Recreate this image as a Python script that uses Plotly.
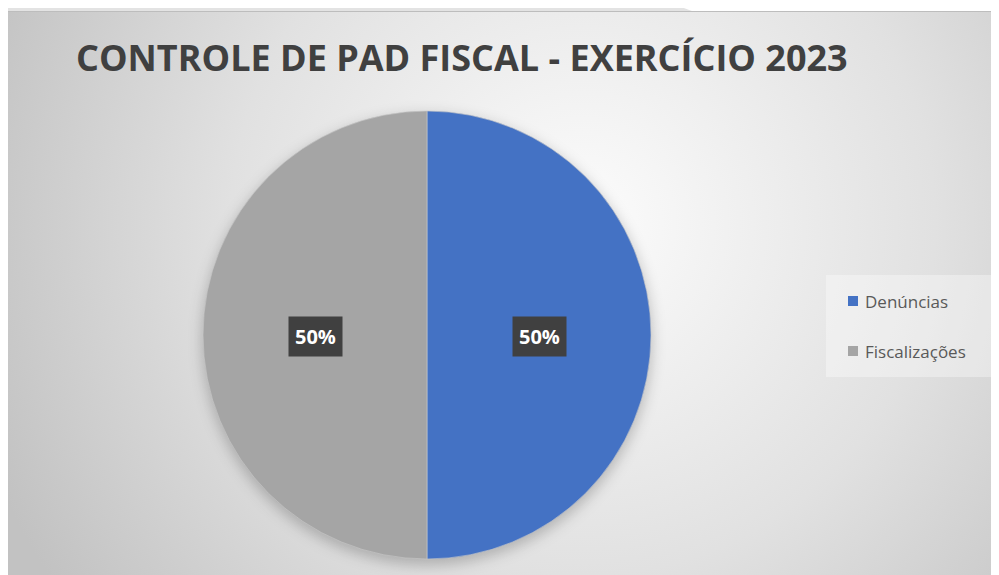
import base64
import math
import plotly.graph_objects as go

# ---- data ----
categories = ["Denúncias", "Fiscalizações"]
values = [1, 1]
colors = ["#4472C4", "#A5A5A5"]
title_text = "CONTROLE DE PAD FISCAL - EXERCÍCIO 2023"

# The page body has an 8px margin, so the figure is drawn 8px in from the top-left.
OFF = 8
W, H = 999 - OFF, 575 - OFF


def px(X):  # reference x pixel -> paper
    return (X - OFF) / W


def py(Y):  # reference y pixel -> paper
    return 1 - (Y - OFF) / H


# pie geometry (reference pixels)
cx, cy, r = 427, 335, 224
fcx, fcy = cx - OFF, cy - OFF

svg = f'''<svg xmlns="http://www.w3.org/2000/svg" width="{W}" height="{H}" viewBox="0 0 {W} {H}">
<defs>
<radialGradient id="g" gradientUnits="userSpaceOnUse" cx="575" cy="215" r="640">
<stop offset="0" stop-color="#fcfcfc"/><stop offset="0.55" stop-color="#e1e1e1"/><stop offset="1" stop-color="#c2c2c2"/></radialGradient>
<filter id="b" x="-20%" y="-20%" width="140%" height="140%"><feGaussianBlur stdDeviation="7"/></filter>
</defs>
<rect width="{W}" height="{H}" fill="url(#g)"/>
<polygon points="0,0 676,0 684,3 0,3" fill="#e3e3e3"/>
<polygon points="676,0 {W},0 {W},3 684,3" fill="#ffffff"/>
<line x1="0" y1="3.5" x2="{W}" y2="3.5" stroke="#bdbdbd" stroke-width="1.2"/>
<circle cx="{fcx}" cy="{fcy + 5}" r="{r + 1}" fill="rgba(0,0,0,0.22)" filter="url(#b)"/>
</svg>'''
bg_src = "data:image/svg+xml;base64," + base64.b64encode(svg.encode()).decode()

fig = go.Figure()
fig.add_trace(go.Pie(
    labels=categories, values=values, sort=False, direction="clockwise", rotation=0,
    marker=dict(colors=colors, line=dict(color="#c9c9c9", width=0.6)),
    textinfo="none", hoverinfo="label+percent", showlegend=False,
    domain=dict(x=[px(cx - r), px(cx + r)], y=[py(cy + r), py(cy - r)]),
))

annotations = []
shapes = []
total = sum(values)
cum = 0
for cat, v in zip(categories, values):
    mid = (cum + v / 2) / total * 2 * math.pi
    cum += v
    lx = cx + 0.5 * r * math.sin(mid)
    ly = cy - 0.5 * r * math.cos(mid) + 1
    annotations.append(dict(
        x=px(lx), y=py(ly), xref="paper", yref="paper", showarrow=False,
        text=f"<b>{v/total:.0%}</b>", font=dict(family="Open Sans", size=20, color="#ffffff"),
        bgcolor="#404040", borderpad=6, xanchor="center", yanchor="middle",
    ))

# custom legend (box, markers, labels)
shapes.append(dict(type="rect", xref="paper", yref="paper",
                   x0=px(826), x1=px(997), y0=py(377), y1=py(275),
                   fillcolor="rgba(255,255,255,0.35)", line=dict(width=0), layer="below"))
for i, (cat, col) in enumerate(zip(categories, colors)):
    ly = 301 + 50 * i
    shapes.append(dict(type="rect", xref="paper", yref="paper",
                       x0=px(848), x1=px(858), y0=py(ly + 5), y1=py(ly - 5),
                       fillcolor=col, line=dict(width=0)))
    annotations.append(dict(x=px(863), y=py(ly), xref="paper", yref="paper", showarrow=False,
                            text=cat, xanchor="left", yanchor="middle",
                            font=dict(family="Open Sans", size=17, color="#595959")))

fig.update_layout(
    width=W, height=H, margin=dict(l=0, r=0, t=0, b=0),
    paper_bgcolor="#ffffff", plot_bgcolor="rgba(0,0,0,0)",
    title=dict(text=title_text, x=px(76), xanchor="left", y=py(58.5), yanchor="middle",
               font=dict(family="Open Sans", size=36, weight=700, color="#404040")),
    images=[dict(source=bg_src, xref="paper", yref="paper", x=0, y=1, sizex=1, sizey=1,
                 xanchor="left", yanchor="top", sizing="stretch", layer="below")],
    shapes=shapes, annotations=annotations,
)

fig.write_html("out.html")
